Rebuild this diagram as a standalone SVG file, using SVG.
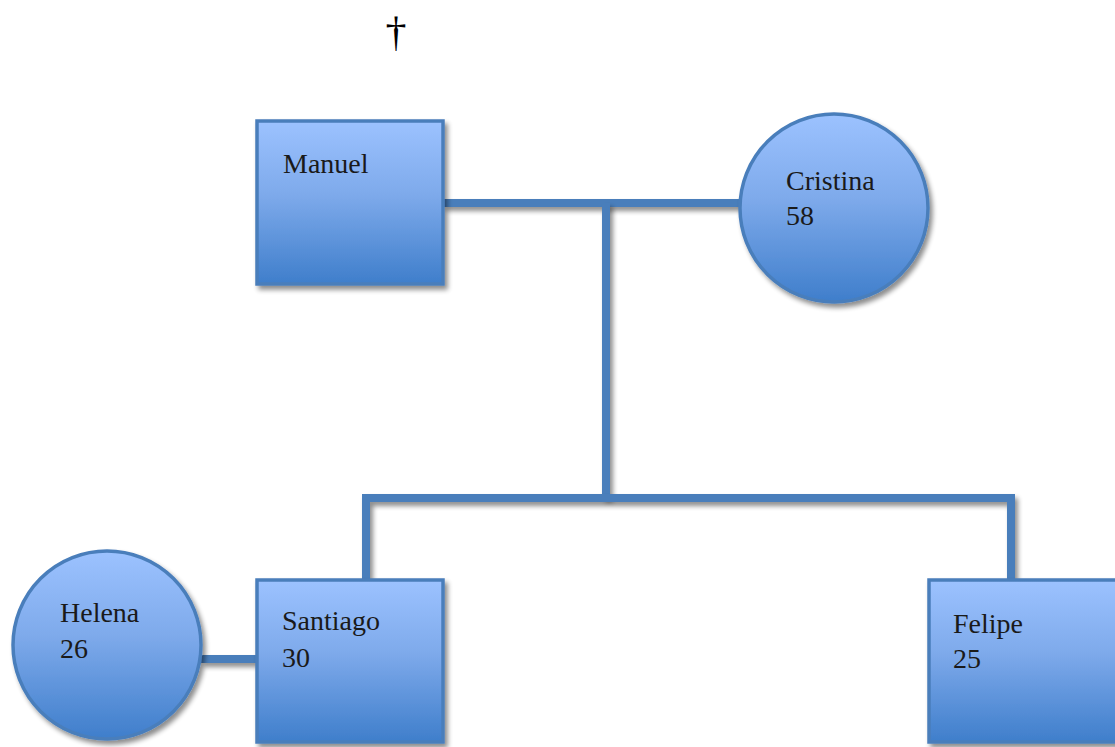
<svg xmlns="http://www.w3.org/2000/svg" width="1115" height="747" viewBox="0 0 1115 747">
<defs>
<linearGradient id="g" x1="0" y1="0" x2="0" y2="1">
<stop offset="0" stop-color="#9cc2ff"/>
<stop offset="0.45" stop-color="#7eaaeb"/>
<stop offset="1" stop-color="#3f7ecb"/>
</linearGradient>
<filter id="sh" filterUnits="userSpaceOnUse" x="0" y="0" width="1115" height="747">
<feGaussianBlur in="SourceAlpha" stdDeviation="2.5"/>
<feOffset dx="3" dy="4" result="b"/>
<feComponentTransfer><feFuncA type="linear" slope="0.45"/></feComponentTransfer>
<feMerge><feMergeNode/><feMergeNode in="SourceGraphic"/></feMerge>
</filter>
</defs>
<style>
.n{fill:url(#g);stroke:#4a7ebb;stroke-width:3.5;filter:url(#sh)}
.c{stroke:#4a7ebb;stroke-width:8;fill:none;filter:url(#sh)}
.t{font-family:"Liberation Serif",serif;font-size:28px;fill:#1a1a1a}
</style>
<rect width="1115" height="747" fill="#fff"/>
<text x="396" y="46" text-anchor="middle" style="font-family:'Liberation Serif',serif;font-size:42px;fill:#000">†</text>
<g id="connectors">
<path class="c" d="M443 203 H740"/>
<path class="c" d="M606 203 V498"/>
<path class="c" d="M366 580 V498 H1011 V580"/>
<path class="c" d="M201 659 H256"/>
</g>
<g id="manuel">
<rect class="n" x="257" y="121" width="186" height="163"/>
<text class="t" x="283" y="173">Manuel</text>
</g>
<g id="cristina">
<circle class="n" cx="834" cy="208" r="94"/>
<text class="t" x="786" y="190">Cristina</text>
<text class="t" x="786" y="225">58</text>
</g>
<g id="helena">
<circle class="n" cx="107" cy="645" r="94"/>
<text class="t" x="60" y="622">Helena</text>
<text class="t" x="60" y="658">26</text>
</g>
<g id="santiago">
<rect class="n" x="257" y="580" width="186" height="162"/>
<text class="t" x="282" y="630">Santiago</text>
<text class="t" x="282" y="667">30</text>
</g>
<g id="felipe">
<rect class="n" x="929" y="580" width="190" height="162"/>
<text class="t" x="953" y="633">Felipe</text>
<text class="t" x="953" y="668">25</text>
</g>
</svg>
